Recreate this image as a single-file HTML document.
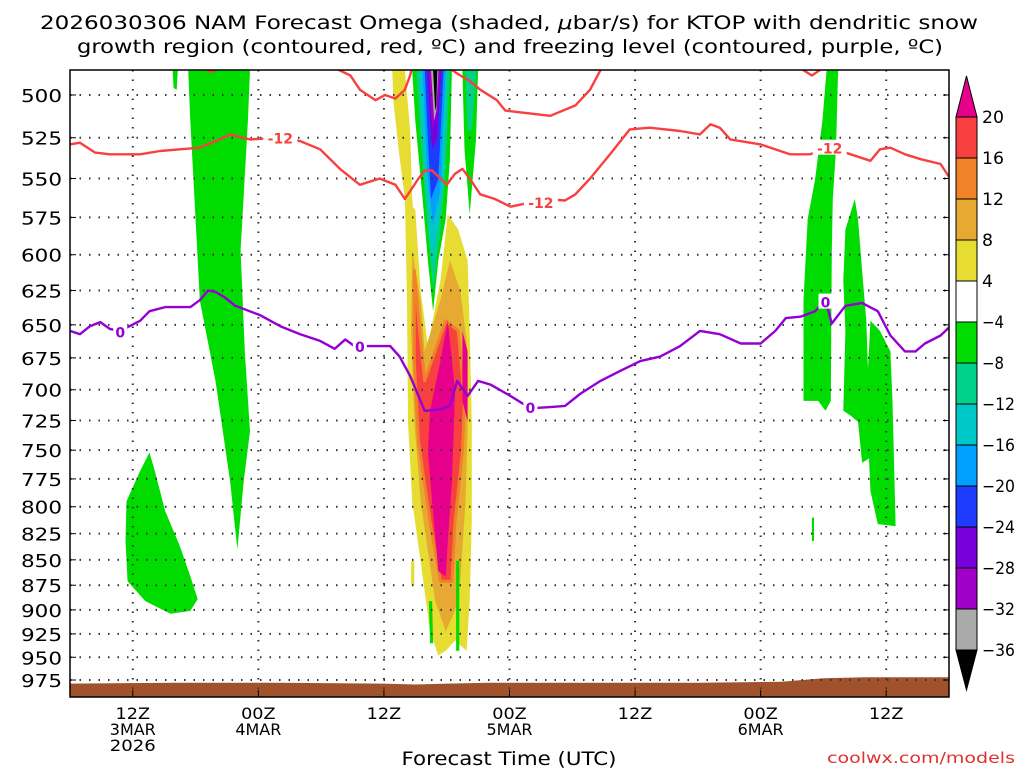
<!DOCTYPE html>
<html><head><meta charset="utf-8"><style>
body{margin:0;background:#fff;}
svg{display:block;font-family:"DejaVu Sans","Liberation Sans",sans-serif;}
</style></head><body>
<svg id="chart" width="1024" height="768" viewBox="0 0 1024 768">
<defs><clipPath id="plotclip"><rect x="70" y="70" width="879" height="627"/></clipPath></defs>
<text x="509" y="29" font-size="19" text-anchor="middle" textLength="938" lengthAdjust="spacingAndGlyphs">2026030306 NAM Forecast Omega (shaded, <tspan font-style="italic">μ</tspan>bar/s) for KTOP with dendritic snow</text>
<text x="510" y="53" font-size="19" text-anchor="middle" textLength="866" lengthAdjust="spacingAndGlyphs">growth region (contoured, red, ºC) and freezing level (contoured, purple, ºC)</text>
<g id="shades" clip-path="url(#plotclip)"></g>
<g id="grid"></g>
<g id="contours" clip-path="url(#plotclip)"></g>
<rect x="70" y="70" width="879" height="627" fill="none" stroke="#000" stroke-width="1.5"/>
<g id="axes"></g>
<g id="cbar"></g>
<text x="509" y="765" font-size="19" text-anchor="middle" textLength="215" lengthAdjust="spacingAndGlyphs">Forecast Time (UTC)</text>
<text x="1015" y="763" font-size="15" text-anchor="end" fill="#e03030" textLength="188" lengthAdjust="spacingAndGlyphs">coolwx.com/models</text>
</svg>
<script>
const pLevels=[500,525,550,575,600,625,650,675,700,725,750,775,800,825,850,875,900,925,950,975];
const xTickHours=[6,18,30,42,54,66,78];
const xTickLabels=["12Z","00Z","12Z","00Z","12Z","00Z","12Z"];
const xTickDates=["3MAR","4MAR","","5MAR","","6MAR",""];
const xTickYears=["2026","","","","","",""];
const cbLevels=[20,16,12,8,4,-4,-8,-12,-16,-20,-24,-28,-32,-36];
const cbColors=["#f84040","#f08228","#e6aa32","#e6dc32","#ffffff","#00dc00","#00d28c","#00c8c8","#00a0ff","#1e3cff","#7800dc","#a000c8","#aaaaaa"];
const groundHours=[0,10,20,30,33,36,40,50,60,68,72,76,84];
const groundP=[979,978,978,979,980,979,978,978,978,977,973,972,972];
const redLow=[[0,529],[0.96,528],[2.4,534],[3.8,535],[6.7,535],[8.6,533],[10.5,532],[12.4,531],[14.3,526],[15.3,523],[17.2,526],[20.1,525],[22,527],[23.9,532],[25.8,544],[27.7,554],[29.6,550],[31.1,554],[32,563],[33.3,550],[33.9,545],[34.6,545],[35.4,550],[36,554],[36.8,547],[37.5,544],[38.2,550],[39.2,560],[40.6,563],[42.1,568],[43.5,566],[45.4,563],[47.3,564],[48.3,560],[49.7,550],[51.6,535],[53.5,520],[55.4,519],[58.3,521],[60.2,523],[61.2,517],[62.1,519],[63.1,526],[66,529],[68.8,535],[70.7,535],[72.7,531],[74.6,535],[76.5,539],[77.4,532],[78.4,531],[79.8,535],[81.3,538],[83.2,541],[84,549]];
const redUp1=[[12.4,484],[13.5,487],[14.5,484]];
const redUp2=[[25,484],[26.8,489],[27.7,497],[29.2,503],[30.1,500],[31.1,502],[32,497],[32.5,489],[32.7,484]];
const redUp3=[[36,484],[37.3,489],[38.2,492],[39.2,497],[40.8,503],[41.6,509],[43,510],[45.9,512],[48.3,506],[49.7,497],[50.7,486],[51,484]];
const redUp4=[[69.8,485],[70.9,489],[71.9,485]];
const purpleZero=[[0,654.5],[0.96,657],[1.9,651],[2.9,648],[3.8,653],[4.8,654.5],[6.7,647],[7.6,640],[9.1,637],[11.5,637],[12.4,632],[13.2,625],[13.9,626],[14.8,630],[15.8,636],[18.2,643],[20.1,651],[22,657],[23.9,662],[25.3,668],[26.3,661],[27.2,666],[28.7,666],[30.6,666],[31.5,674],[32.5,689],[33.3,705],[33.9,717],[35.4,716],[36.3,713],[37,693],[38,705],[39,693],[40.2,696],[42.1,705],[44,715],[45.9,714],[47.3,713],[48.8,703],[50.7,693],[52.6,685],[54.5,677.5],[56.4,674],[58.3,666],[60.2,654.5],[62.1,657],[64.1,664],[66,664],[67.4,654.5],[68.4,645],[69.8,644],[71.2,640],[72.2,632],[72.8,649],[74.1,636],[75.7,634],[77.2,640],[78.4,658],[79.8,670],[80.8,670],[81.7,664],[83.2,658],[84,652]];
const redLabels=[[20.1,525],[45,565],[72.6,531]];
const purpleLabels=[[4.8,655],[27.7,666],[44,714],[72.2,633]];
const greenLeft=[[11.3,486],[17.2,486],[17,515],[16.3,597],[16.7,670],[17.2,734],[16.6,777],[16,840],[15.3,777],[13.9,693],[12.4,632],[11.9,563],[11.5,515]];
const greenTiny=[[9.8,486],[10.3,486],[10.2,497],[9.9,496]];
const greenBlob=[[5.4,795],[6.7,768],[7.6,752],[8.1,768],[9.1,804],[10.5,837],[11.5,866],[12.2,889],[11.5,901],[9.6,904],[7.2,891],[5.5,871],[5.3,832]];
const yellowStripe=[[30.8,486],[32,486],[32.5,520.5],[32.7,563],[33,583],[32,563],[31.4,532],[30.9,503]];
const yellowBody=[[32,563],[33,570],[33.5,625],[34.2,666],[35.4,618],[36.1,573],[37.1,583],[38,604],[38.2,654.5],[38.4,726],[38.4,813.5],[38.2,891],[37.9,943],[36.8,932],[35.9,943],[35.2,948],[34.4,922],[33.5,851.5],[32.7,795],[32.3,726],[32.2,632]];
const orangeBody=[[32.7,597],[33.5,632],[33.9,670],[35.4,632],[36.3,604],[37.3,625],[37.9,662],[38,734],[37.8,795],[37.3,871],[36.8,901],[35.9,922],[34.9,891],[33.5,795],[32.9,726],[32.6,654.5]];
const redBody=[[32.9,611],[33.5,662],[33.9,693],[35.9,647],[37.1,654.5],[37.7,709],[37.5,751],[36.8,813.5],[36.5,871],[35.4,871],[34.4,813.5],[33.3,742.5],[32.9,677.5]];
const magentaBody=[[34.4,717],[35.4,677.5],[36.1,647],[36.8,701],[36.5,777.5],[36.1,832],[35.9,866],[35.2,861],[34.6,795],[34.2,751]];
const magentaSmall=[[37.5,654.5],[38,670],[38,726],[37.5,709]];
const coolGreen=[[32.7,486],[36.5,486],[36.3,538],[35.9,576],[35.2,604],[34.7,640],[34.2,604],[33.7,563],[33,515]];
const coolTeal=[[33.1,486],[36.3,486],[35.9,544],[35.4,583],[34.7,625],[34.2,583],[33.5,526]];
const coolCyan=[[33.4,486],[36,486],[35.7,550.5],[35.1,583],[34.6,604],[34.1,563],[33.6,515]];
const coolLightBlue=[[33.7,486],[35.9,486],[35.4,557],[34.7,580],[34.1,544]];
const coolBlue=[[33.9,486],[35.7,486],[35.2,550.5],[34.5,563],[34.2,526]];
const coolPurple=[[34.1,486],[35.5,486],[35.1,526],[34.6,532]];
const coolPurple2=[[34.3,486],[35.4,486],[35.1,509],[34.6,520.5]];
const coolGray=[[34.5,486],[35.2,486],[35,509],[34.8,515]];
const coolBlack=[[34.7,486],[35.1,486],[35,506],[34.9,509]];
const rightColGreen=[[37.5,486],[39,486],[38.8,526],[38.2,573],[37.7,532]];
const rightColTeal=[[37.8,486],[38.8,486],[38.4,520.5],[38,520.5]];
const greenR1=[[72.3,486],[73.4,486],[73.2,532],[72.9,563],[72.8,597],[72.7,709],[72.2,717],[71.5,709],[70.1,709],[70.1,632],[70.5,576],[71.2,550.5],[71.9,515]];
const greenR2=[[74.1,583],[75,563],[75.3,576],[75.7,611],[76.1,647],[76.3,693],[76.5,709],[76.7,755],[75.7,761],[75.3,726],[74.6,721],[73.9,717],[74.1,654.5],[73.9,618]];
const greenR3=[[76.5,647],[77.4,654.5],[78.4,670],[78.6,709],[78.9,818],[77.2,816],[76.5,786],[76.1,709]];
const greenBit1=[[34.3,891],[34.6,891],[34.7,935],[34.4,935]];
const greenBit2=[[36.9,851],[37.2,851],[37.2,943],[36.9,943]];
const greenBit3=[[70.9,810],[71.1,810],[71.1,832],[70.9,832]];
const yellowBit=[[32.6,851],[32.9,851],[32.9,875],[32.6,875]];

const NS="http://www.w3.org/2000/svg";
const X0=70,X1=949,HMAX=84;
function xs(h){return X0+h*(X1-X0)/HMAX;}
function ys(p){return 95+876*Math.log(p/500);}
function mk(tag,attrs,parent){const e=document.createElementNS(NS,tag);for(const k in attrs)e.setAttribute(k,attrs[k]);parent.appendChild(e);return e;}
function pts(a){return a.map(d=>xs(d[0]).toFixed(1)+","+ys(d[1]).toFixed(1)).join(" ");}
const shades=document.getElementById("shades");
function poly(a,fill,name,stroke){const e=mk("polygon",{points:pts(a),fill:fill},shades);


if(stroke){e.setAttribute("stroke",stroke);e.setAttribute("stroke-width","3");e.setAttribute("stroke-linejoin","round");}
return e;}
let gp=groundHours.map((h,i)=>[h,groundP[i]]);
gp.push([84,1000]);gp.push([0,1000]);
poly(gp,"#a0522d","ground-surface");
poly(greenLeft,"#00dc00","omega-green-left");
poly(greenTiny,"#00dc00","omega-green-tiny");
poly(greenBlob,"#00dc00","omega-green-blob");
poly(yellowStripe,"#e6dc32","omega-yellow-stripe");
poly(yellowBody,"#e6dc32","omega-yellow-body");
poly(yellowBit,"#e6dc32","omega-yellow-bit");
poly(orangeBody,"#e6aa32","omega-orange-body");
poly(redBody,"#f84040","omega-red-body","#f08228");
poly(magentaBody,"#e6008c","omega-magenta-body");
poly(magentaSmall,"#e6008c","omega-magenta-small");
poly(coolGreen,"#00dc00","omega-cool-green");
poly(coolTeal,"#00d28c","omega-cool-teal");
poly(coolCyan,"#00c8c8","omega-cool-cyan");
poly(coolLightBlue,"#00a0ff","omega-cool-lightblue");
poly(coolBlue,"#1e3cff","omega-cool-blue");
poly(coolPurple,"#7800dc","omega-cool-purple");
poly(coolPurple2,"#a000c8","omega-cool-purple2");
poly(coolGray,"#aaaaaa","omega-cool-gray");
poly(coolBlack,"#000000","omega-cool-black");
poly(rightColGreen,"#00dc00","omega-rightcol-green");
poly(rightColTeal,"#00d28c","omega-rightcol-teal");
poly(greenR1,"#00dc00","omega-green-right1");
poly(greenR2,"#00dc00","omega-green-right2");
poly(greenR3,"#00dc00","omega-green-right3");
poly(greenBit1,"#00dc00","omega-green-bit1");
poly(greenBit2,"#00dc00","omega-green-bit2");
poly(greenBit3,"#00dc00","omega-green-bit3");
const grid=document.getElementById("grid");
pLevels.forEach(p=>{const l=mk("line",{x1:X0,x2:X1,y1:ys(p),y2:ys(p),stroke:"#333","stroke-width":2,"stroke-dasharray":"1.5 8"},grid);

});
xTickHours.forEach(h=>{const l=mk("line",{x1:xs(h),x2:xs(h),y1:70,y2:697,stroke:"#333","stroke-width":2,"stroke-dasharray":"1.5 8"},grid);

});
const con=document.getElementById("contours");
function line(a,color,name){const e=mk("polyline",{points:pts(a),fill:"none",stroke:color,"stroke-width":2.4,"stroke-linejoin":"round"},con);

}
line(redLow,"#f84040","dgz-contour-lower");
line(redUp1,"#f84040","dgz-contour-upper-1");
line(redUp2,"#f84040","dgz-contour-upper-2");
line(redUp3,"#f84040","dgz-contour-upper-3");
line(redUp4,"#f84040","dgz-contour-upper-4");
line(purpleZero,"#9400d3","freezing-level-contour");
function clabel(d,txt,color,name){const x=xs(d[0]),y=ys(d[1]);
const r=mk("rect",{x:x-txt.length*5-2,y:y-8,width:txt.length*10+4,height:15,fill:"#fff"},con);


const t=mk("text",{x:x,y:y+6,"font-size":14,"font-weight":"bold","text-anchor":"middle",fill:color},con);t.textContent=txt;

}
redLabels.forEach(d=>clabel(d,"-12","#f84040","dgz-contour-label"));
purpleLabels.forEach(d=>clabel(d,"0","#9400d3","freezing-contour-label"));
const ax=document.getElementById("axes");
pLevels.forEach(p=>{const t=mk("text",{x:62,y:ys(p)+7,"font-size":18,"text-anchor":"end",textLength:41,lengthAdjust:"spacingAndGlyphs"},ax);t.textContent=p;


const tk=mk("line",{x1:X0,x2:X0+6,y1:ys(p),y2:ys(p),stroke:"#000"},ax);


const tk2=mk("line",{x1:X1-6,x2:X1,y1:ys(p),y2:ys(p),stroke:"#000"},ax);

});
xTickHours.forEach((h,i)=>{const x=xs(h);
const tk=mk("line",{x1:x,x2:x,y1:690,y2:697,stroke:"#000"},ax);


[xTickLabels[i],xTickDates[i],xTickYears[i]].forEach((s,j)=>{if(!s)return;const t=mk("text",{x:x,y:719+j*16,"font-size":16,"text-anchor":"middle",textLength:s.length*11.5,lengthAdjust:"spacingAndGlyphs"},ax);t.textContent=s;

});});
const cb=document.getElementById("cbar");
const CBX=956,CBW=21,CBT=117,CBS=41;
const up=mk("polygon",{points:`${CBX},${CBT} ${CBX+CBW},${CBT} ${CBX+CBW/2},76`,fill:"#e6008c",stroke:"#000"},cb);


cbColors.forEach((c,i)=>{const r=mk("rect",{x:CBX,y:CBT+i*CBS,width:CBW,height:CBS,fill:c,stroke:"#000"},cb);

});
const bot=CBT+cbColors.length*CBS;
const dn=mk("polygon",{points:`${CBX},${bot} ${CBX+CBW},${bot} ${CBX+CBW/2},690`,fill:"#000",stroke:"#000"},cb);


cbLevels.forEach((v,i)=>{const s=v<0?"−"+(-v):String(v);const t=mk("text",{x:982,y:CBT+i*CBS+6,"font-size":17,textLength:s.length*11,lengthAdjust:"spacingAndGlyphs"},cb);t.textContent=s;

});
</script>
</body></html>
